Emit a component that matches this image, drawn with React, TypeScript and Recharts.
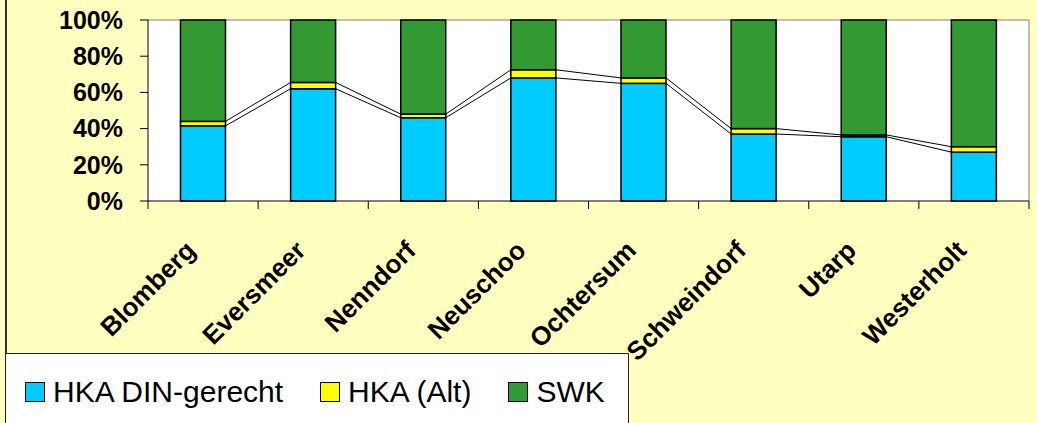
import React from 'react';
import { ComposedChart, Bar, XAxis, YAxis, CartesianGrid } from 'recharts';

const places = ['Blomberg', 'Eversmeer', 'Nenndorf', 'Neuschoo', 'Ochtersum', 'Schweindorf', 'Utarp', 'Westerholt'];
const hkaDin = [41.5, 62, 46, 68, 65, 37, 35.5, 27];
const hkaAlt = [2.5, 3.5, 2, 4.5, 3, 3, 1, 3];
const swk = [56, 34.5, 52, 27.5, 32, 60, 63.5, 70];
const percentTicks = [0, 20, 40, 60, 80, 100];

const series = [
  { key: 'din', name: 'HKA DIN-gerecht', color: '#00CCFF' },
  { key: 'alt', name: 'HKA (Alt)', color: '#FFFF00' },
  { key: 'swk', name: 'SWK', color: '#339933' },
];

const table = places.map((place, i) => ({ place, din: hkaDin[i], alt: hkaAlt[i], swk: swk[i] }));

const W = 1037;
const H = 423;
const X_H = 1;
const MARGIN = { top: 20, right: 8, left: 8, bottom: 221 };
const Y_W = 140;
const PLOT_W = W - MARGIN.left - MARGIN.right - Y_W;
const BAND = PLOT_W / places.length;
const FONT = '"Liberation Sans", Arial, sans-serif';

// blue segment + the Excel-style series lines over to the next column
const DinShape = (props: any) => {
  const { x, y, width, height, payload, fill } = props;
  const i = typeof props.index === 'number' ? props.index : places.indexOf(payload.place);
  const px = height / payload.din;
  const base = y + height;
  const next = table[i + 1];
  let lines = null;
  if (next) {
    const x1 = x + width;
    const x2 = x + BAND;
    const altTop = base - (payload.din + payload.alt) * px;
    const nDin = base - next.din * px;
    const nAlt = base - (next.din + next.alt) * px;
    lines = (
      <g stroke="#000" strokeWidth={1}>
        <line x1={x1} y1={y} x2={x2} y2={nDin} />
        <line x1={x1} y1={altTop} x2={x2} y2={nAlt} />
      </g>
    );
  }
  return (
    <g>
      {lines}
      <rect x={x} y={y} width={width} height={height} fill={fill} stroke="#000" strokeWidth={1.5} />
    </g>
  );
};

const PlainShape = (props: any) => {
  const { x, y, width, height, fill } = props;
  return <rect x={x} y={y} width={width} height={height} fill={fill} stroke="#000" strokeWidth={1.5} />;
};

// rotated label plus tick marks on the category borders (Excel style)
const PlaceTick = (props: any) => {
  const { x, y, payload, index } = props;
  const last = index === places.length - 1;
  return (
    <g>
      <line x1={x - BAND / 2} y1={y} x2={x - BAND / 2} y2={y + 8} stroke="#000" />
      {last && <line x1={x + BAND / 2} y1={y} x2={x + BAND / 2} y2={y + 8} stroke="#000" />}
      <g transform={`translate(${x - 6},${y + 51})`}>
        <text
          textAnchor="end"
          transform="rotate(-45)"
          fontFamily={FONT}
          fontWeight="bold"
          fontSize={26}
          fill="#000"
        >
          {payload.value}
        </text>
      </g>
    </g>
  );
};

const LegendBox = () => (
  <div
    style={{
      position: 'absolute',
      left: 5,
      top: 353,
      width: 624,
      height: 80,
      background: '#fff',
      border: '1px solid #222',
      boxSizing: 'border-box',
    }}
  >
    <div
      style={{
        position: 'absolute',
        left: 19,
        top: 20,
        height: 36,
        display: 'flex',
        alignItems: 'center',
        fontFamily: FONT,
        fontSize: 30,
        color: '#000',
        whiteSpace: 'nowrap',
      }}
    >
      {series.map((s) => (
        <div key={s.key} style={{ display: 'flex', alignItems: 'center', marginRight: 37 }}>
          <span
            style={{
              display: 'inline-block',
              width: 20,
              height: 20,
              background: s.color,
              border: '1px solid #000',
              boxSizing: 'border-box',
              marginRight: 8,
            }}
          />
          <span>{s.name}</span>
        </div>
      ))}
    </div>
  </div>
);

export default function App() {
  return (
    <div
      style={{
        position: 'fixed',
        left: 0,
        top: 0,
        width: W,
        height: H,
        background: '#FFFFC0',
        overflow: 'hidden',
      }}
    >
      <div style={{ position: 'absolute', left: 5, top: 0, width: 2, height: H, background: '#333' }} />
      <ComposedChart width={W} height={H} data={table} margin={MARGIN} barCategoryGap="29.5%">
        <CartesianGrid
          fill="#ffffff"
          stroke="#808080"
          horizontalPoints={[MARGIN.top]}
          verticalPoints={[W - MARGIN.right]}
        />
        <XAxis
          dataKey="place"
          height={X_H}
          interval={0}
          axisLine={{ stroke: '#000' }}
          tickLine={false}
          tickSize={0}
          tickMargin={0}
          tick={<PlaceTick />}
        />
        <YAxis
          width={Y_W}
          domain={[0, 100]}
          ticks={percentTicks}
          interval={0}
          tickFormatter={(v) => `${v}%`}
          tickSize={8}
          tickMargin={17}
          tick={{ fill: '#000', fontSize: 25, fontWeight: 'bold', fontFamily: FONT }}
          tickLine={{ stroke: '#000' }}
          axisLine={{ stroke: '#000' }}
        />
        <Bar dataKey="din" stackId="a" fill={series[0].color} shape={<DinShape />} isAnimationActive={false} />
        <Bar dataKey="alt" stackId="a" fill={series[1].color} shape={<PlainShape />} isAnimationActive={false} />
        <Bar dataKey="swk" stackId="a" fill={series[2].color} shape={<PlainShape />} isAnimationActive={false} />
      </ComposedChart>
      <LegendBox />
    </div>
  );
}
